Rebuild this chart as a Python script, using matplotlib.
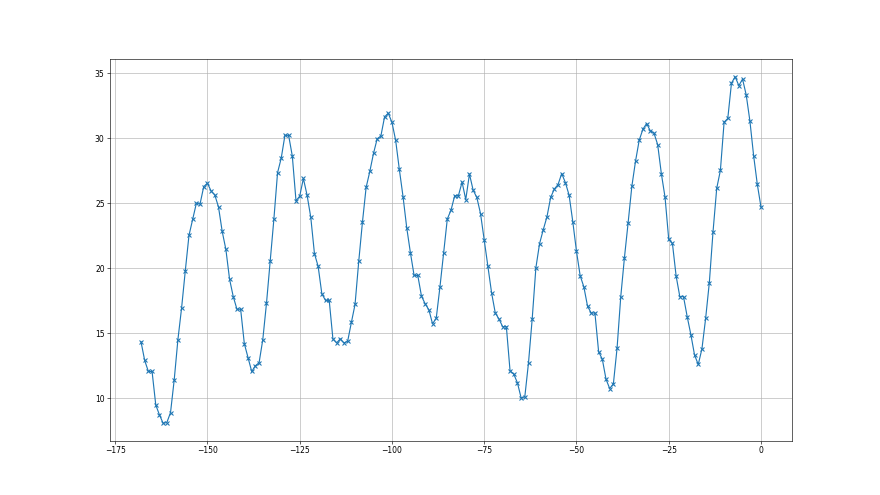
import numpy as np
import matplotlib
matplotlib.use("Agg")
import matplotlib.pyplot as plt

# hours relative to now, one reading per step
hours = np.arange(-168, 1)

temps = [
    14.35, 12.91, 12.06, 12.06, 9.49, 8.72, 8.08, 8.13, 8.90, 11.42,
    14.51, 16.95, 19.80, 22.53, 23.77, 25.00, 24.95, 26.29, 26.54, 25.95,
    25.64, 24.72, 22.84, 21.45, 19.16, 17.82, 16.85, 16.85, 14.20, 13.12,
    12.06, 12.50, 12.74, 14.51, 17.30, 20.54, 23.76, 27.35, 28.48, 30.23,
    30.23, 28.64, 25.19, 25.55, 26.91, 25.63, 23.93, 21.13, 20.15, 18.04,
    17.53, 17.53, 14.57, 14.26, 14.57, 14.26, 14.39, 15.83, 17.22, 20.53,
    23.54, 26.22, 27.45, 28.84, 29.97, 30.18, 31.65, 31.93, 31.23, 29.85,
    27.61, 25.52, 23.13, 21.20, 19.45, 19.45, 17.86, 17.27, 16.81, 15.73,
    16.16, 18.55, 21.20, 23.80, 24.47, 25.58, 25.58, 26.63, 25.29, 27.25,
    26.01, 25.45, 24.21, 22.16, 20.17, 18.11, 16.56, 16.10, 15.51, 15.51,
    12.11, 11.86, 11.19, 10.03, 10.11, 12.73, 16.10, 20.04, 21.90, 22.97,
    23.96, 25.45, 26.10, 26.44, 27.29, 26.59, 25.63, 23.59, 21.31, 19.43,
    18.57, 17.08, 16.56, 16.56, 13.58, 13.01, 11.47, 10.75, 11.11, 13.86,
    17.82, 20.83, 23.52, 26.30, 28.24, 29.86, 30.70, 31.14, 30.58, 30.40,
    29.52, 27.28, 25.46, 22.22, 21.91, 19.41, 17.82, 17.82, 16.28, 14.89,
    13.32, 12.60, 13.81, 16.15, 18.90, 22.81, 26.15, 27.54, 31.24, 31.53,
    34.25, 34.74, 34.05, 34.56, 33.33, 31.32, 28.67, 26.46, 24.71,
]

fig = plt.figure(figsize=(16, 9), dpi=55)
plt.plot(hours, temps, marker="x", markersize=6, markeredgewidth=1.4, linewidth=1.5)
plt.grid(True)

plt.savefig("out.png", dpi=55)
